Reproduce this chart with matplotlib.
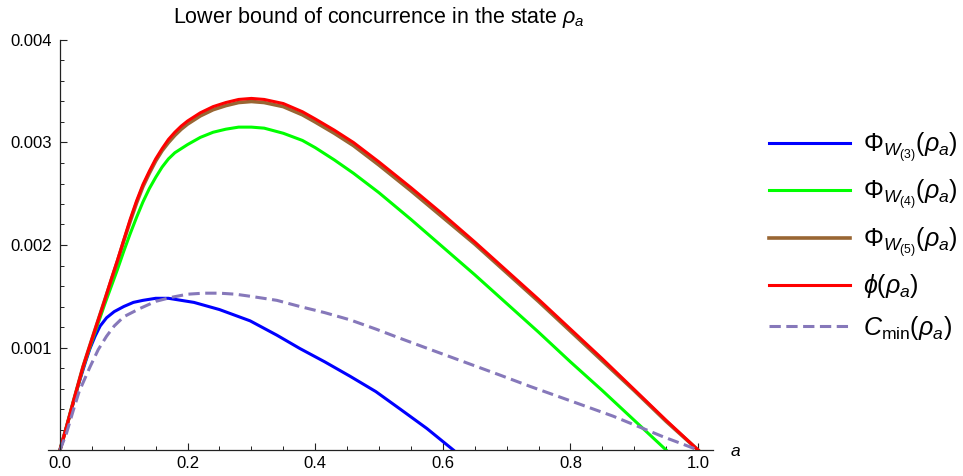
import matplotlib
matplotlib.use("Agg")
import matplotlib.pyplot as plt
from matplotlib.ticker import MultipleLocator, FixedLocator, FixedFormatter
from matplotlib.lines import Line2D

plt.rcParams['font.family'] = ['Liberation Sans', 'DejaVu Sans']
plt.rcParams['mathtext.fontset'] = 'custom'
plt.rcParams['mathtext.rm'] = 'Liberation Sans'
plt.rcParams['mathtext.it'] = 'Liberation Sans:italic'
plt.rcParams['mathtext.bf'] = 'Liberation Sans:bold'
plt.rcParams['mathtext.fallback'] = 'cm'

# ---- data ----
a_red = [0, 0.01, 0.02, 0.036, 0.05, 0.06, 0.07, 0.08, 0.09, 0.10, 0.11, 0.12, 0.13, 0.14,
         0.15, 0.16, 0.17, 0.18, 0.19, 0.20, 0.22, 0.24, 0.26, 0.28, 0.30, 0.32, 0.35,
         0.38, 0.40, 0.43, 0.46, 0.50, 0.55, 0.60, 0.65, 0.70, 0.75, 0.80, 0.85, 0.90,
         0.95, 1.0]
phi = [0, 0.00022, 0.00045, 0.00081, 0.00108, 0.00127, 0.00146, 0.00166, 0.00185, 0.00205,
       0.00225, 0.00243, 0.00259, 0.00272, 0.00284, 0.00294, 0.00303, 0.00310, 0.00316,
       0.00321, 0.00329, 0.00335, 0.00339, 0.00342, 0.00343, 0.00342, 0.00338, 0.00330,
       0.00323, 0.00312, 0.00300, 0.00281, 0.00256, 0.00230, 0.00203, 0.00175, 0.00147,
       0.00118, 0.00089, 0.00059, 0.00029, 0]

a_brown = [0, 0.01, 0.02, 0.036, 0.05, 0.06, 0.07, 0.08, 0.09, 0.10, 0.11, 0.12, 0.13, 0.14,
           0.15, 0.16, 0.17, 0.18, 0.19, 0.20, 0.22, 0.24, 0.26, 0.28, 0.30, 0.32, 0.35,
           0.38, 0.40, 0.43, 0.46, 0.50, 0.55, 0.60, 0.65, 0.70, 0.75, 0.80, 0.85, 0.90,
           0.95, 1.0]
phi_w5 = [0, 0.00022, 0.00045, 0.00081, 0.00108, 0.00127, 0.00146, 0.00165, 0.00184, 0.00204,
          0.00223, 0.00241, 0.00257, 0.00270, 0.00282, 0.00292, 0.00300, 0.00307, 0.00313,
          0.00318, 0.00326, 0.00332, 0.00336, 0.00339, 0.00340, 0.00339, 0.00335, 0.00327,
          0.00320, 0.00309, 0.00297, 0.00278, 0.00253, 0.00227, 0.00201, 0.00173, 0.00145,
          0.00116, 0.00087, 0.00058, 0.00028, 0]

a_green = [0, 0.01, 0.02, 0.036, 0.05, 0.06, 0.07, 0.08, 0.09, 0.10, 0.11, 0.12, 0.13, 0.14,
           0.15, 0.16, 0.17, 0.18, 0.19, 0.20, 0.22, 0.24, 0.26, 0.28, 0.30, 0.32, 0.35,
           0.38, 0.40, 0.43, 0.46, 0.50, 0.55, 0.60, 0.65, 0.70, 0.75, 0.80, 0.85, 0.90,
           0.95]
phi_w4 = [0, 0.00022, 0.00045, 0.00080, 0.00106, 0.00124, 0.00142, 0.00159, 0.00176, 0.00194,
          0.00211, 0.00227, 0.00242, 0.00255, 0.00266, 0.00276, 0.00284, 0.00290, 0.00294,
          0.00298, 0.00305, 0.00310, 0.00313, 0.00315, 0.00315, 0.00314, 0.00309, 0.00302,
          0.00295, 0.00283, 0.00270, 0.00251, 0.00225, 0.00198, 0.00171, 0.00143, 0.00115,
          0.00086, 0.00058, 0.00029, 0]

a_blue = [0, 0.01, 0.02, 0.03, 0.035, 0.04, 0.047, 0.055, 0.063, 0.073, 0.085, 0.10, 0.115,
          0.13, 0.15, 0.17, 0.19, 0.21, 0.25, 0.298, 0.34, 0.376, 0.415, 0.4545, 0.495,
          0.533, 0.575, 0.6165]
phi_w3 = [0, 0.00022, 0.00044, 0.00066, 0.00076, 0.00086, 0.00099, 0.00111, 0.00121, 0.00129,
          0.00135, 0.00140, 0.00144, 0.00146, 0.00148, 0.00148, 0.00146, 0.00144, 0.00137,
          0.00126, 0.00112, 0.00099, 0.00086, 0.00072, 0.00057, 0.00040, 0.00021, 0]

a_dash = [0, 0.01, 0.021, 0.03, 0.047, 0.06, 0.073, 0.085, 0.10, 0.125, 0.15, 0.175, 0.20,
          0.225, 0.25, 0.275, 0.298, 0.34, 0.376, 0.415, 0.4545, 0.495, 0.533, 0.585,
          0.6375, 0.69, 0.737, 0.80, 0.867, 0.91, 0.945, 0.975, 1.0]
c_min = [0, 0.00016, 0.00039, 0.00057, 0.00081, 0.00098, 0.00111, 0.00121, 0.00130, 0.00138,
         0.00145, 0.00149, 0.00152, 0.00153, 0.00153, 0.00152, 0.00150, 0.00146, 0.00140,
         0.00134, 0.00127, 0.00118, 0.00109, 0.00097, 0.00085, 0.00073, 0.00062, 0.00048,
         0.00033, 0.00022, 0.00013, 0.00006, 0]

x_ticks = [0.0, 0.2, 0.4, 0.6, 0.8, 1.0]
x_labels = ["0.0", "0.2", "0.4", "0.6", "0.8", "1.0"]
y_ticks = [0.001, 0.002, 0.003, 0.004]
y_labels = ["0.001", "0.002", "0.003", "0.004"]

labels = [r"$\Phi_{W_{(3)}}(\rho_a)$", r"$\Phi_{W_{(4)}}(\rho_a)$",
          r"$\Phi_{W_{(5)}}(\rho_a)$", r"$\phi(\rho_a)$", r"$C_{\mathrm{min}}(\rho_a)$"]

# ---- figure ----
W, H = 963, 476
fig = plt.figure(figsize=(W / 100, H / 100), dpi=100)
ax = fig.add_axes([48 / W, 26 / H, 665 / W, 410 / H])

lw = 2.2
c_blue, c_green, c_brown, c_red, c_dash = (0, 0, 1), (0, 1, 0), (0.6, 0.4, 0.2), (1, 0, 0), '#8678BA'
ax.plot(a_blue, phi_w3, color=c_blue, lw=lw, solid_joinstyle='round')
ax.plot(a_green, phi_w4, color=c_green, lw=lw, solid_joinstyle='round')
ax.plot(a_brown, phi_w5, color=c_brown, lw=lw + 0.4, solid_joinstyle='round')
ax.plot(a_red, phi, color=c_red, lw=lw, solid_joinstyle='round')
ax.plot(a_dash, c_min, color=c_dash, lw=lw, dashes=(3.7, 1.8))

ax.set_xlim(-0.0188, 1.0235)
ax.set_ylim(0, 0.004)

axc = '#222222'
for s in ['top', 'right']:
    ax.spines[s].set_visible(False)
ax.spines['left'].set_position(('data', 0))
ax.spines['left'].set_bounds(0, 0.004)
for s in ['left', 'bottom']:
    ax.spines[s].set_color(axc)
    ax.spines[s].set_linewidth(0.9)

ax.xaxis.set_major_locator(FixedLocator(x_ticks))
ax.xaxis.set_major_formatter(FixedFormatter(x_labels))
ax.xaxis.set_minor_locator(MultipleLocator(0.05))
ax.yaxis.set_major_locator(FixedLocator(y_ticks))
ax.yaxis.set_major_formatter(FixedFormatter(y_labels))
ax.yaxis.set_minor_locator(MultipleLocator(0.0002))
ax.tick_params(which='major', direction='in', length=4.8, width=0.8, color=axc,
               labelsize=12, labelcolor='black')
ax.tick_params(which='minor', direction='in', length=2.6, width=0.7, color=axc)
ax.tick_params(axis='x', pad=4)
ax.tick_params(axis='y', pad=5.5)

fig.text(735 / W, 1 - 452 / H, "a", style='italic', fontsize=12.5, ha='center', va='center')
fig.text(379 / W, 1 - 17 / H, r"Lower bound of concurrence in the state $\rho_a$",
         fontsize=15.5, ha='center', va='center')

handles = [Line2D([], [], color=c_blue, lw=lw),
           Line2D([], [], color=c_green, lw=lw),
           Line2D([], [], color=c_brown, lw=lw + 0.4),
           Line2D([], [], color=c_red, lw=lw),
           Line2D([], [], color=c_dash, lw=lw, dashes=(3.7, 1.8))]
fs = 18
fpx = fs * 100 / 72
fig.legend(handles, labels, loc='center left', bbox_to_anchor=(769 / W, 1 - 236 / H),
           frameon=False, fontsize=fs, handlelength=81 / fpx,
           handletextpad=13 / fpx, borderpad=0, borderaxespad=0,
           labelspacing=0.55)

fig.savefig("out.png", dpi=100)
